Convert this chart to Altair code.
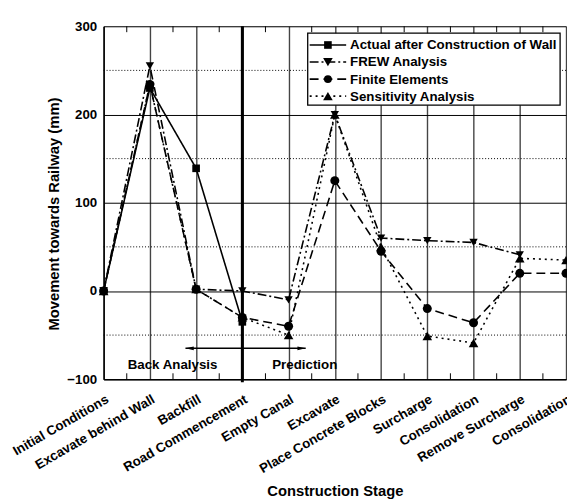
import json
import altair as alt
import pandas as pd

stages = ["Initial Conditions", "Excavate behind Wall", "Backfill", "Road Commencement",
          "Empty Canal", "Excavate", "Place Concrete Blocks", "Surcharge", "Consolidation",
          "Remove Surcharge", "Consolidation"]
series = ["Actual after Construction of Wall", "FREW Analysis", "Finite Elements",
          "Sensitivity Analysis"]
actual = [0, 230, 139, -35, None, None, None, None, None, None, None]
frew = [0, 255, 2, 0, -10, 200, 60, 57, 55, 41, None]
fe = [0, 234, 2, -30, -40, 125, 45, -20, -36, 20, 20]
sens = [0, 234, 2, -30, -50, 200, 50, -51, -59, 37, 35]

minor_y = [-50, 50, 150, 250]
half_x = [i + 0.5 for i in range(10)]
divider_x = [3]
arrow_x = [1.77, 4.37]
arrow_y = [-65]
notes = ["Back Analysis", "Prediction"]
notes_x = [1.49, 4.35]
notes_y = [-84, -84]

shapes = ["square", "triangle-down", "circle", "triangle-up"]
sizes = [60, 95, 65, 95]
dashes = [[1, 0], [9, 3, 2, 3], [9, 5], [2, 4]]

rows = []
for name, vals in zip(series, [actual, frew, fe, sens]):
    for i, v in enumerate(vals):
        if v is not None:
            rows.append({"series": name, "stage": i, "value": v})
df = pd.DataFrame(rows)

W, H = 469, 358
FONT = "Liberation Sans"
xs = alt.Scale(domain=[0, 10], nice=False, zero=False)
ys = alt.Scale(domain=[-100, 300], nice=False, zero=False)
label_expr = json.dumps(stages) + "[datum.value]"

base = alt.Chart(df)

lines = base.mark_line(color="black", strokeWidth=1.6).encode(
    x=alt.X("stage:Q", scale=xs, title="Construction Stage",
            axis=alt.Axis(values=list(range(11)), labelExpr=label_expr, labelAngle=-30,
                          labelOverlap=False, labelBound=False, labelFlush=False,
                          grid=True, gridColor="#444", gridWidth=1.4, ticks=False,
                          domain=True, domainColor="black", domainWidth=1.5,
                          labelFontSize=13.5, labelFontWeight="bold", labelPadding=13,
                          titleFontSize=15, titleFontWeight="bold", titleY=118,
                          titleBaseline="alphabetic", labelFont=FONT, titleFont=FONT)),
    y=alt.Y("value:Q", scale=ys, title="Movement towards Railway (mm)",
            axis=alt.Axis(values=[-100, 0, 100, 200, 300], grid=True, gridColor="black",
                          gridWidth=1, ticks=False, domain=True, domainColor="black",
                          domainWidth=1.5, labelFontSize=13.5, labelFontWeight="bold",
                          labelPadding=7, titleFontSize=15, titleFontWeight="bold",
                          titleX=-51, titleY=190, titleBaseline="middle",
                          labelFont=FONT, titleFont=FONT)),
    strokeDash=alt.StrokeDash("series:N", scale=alt.Scale(domain=series, range=dashes), legend=None),
    detail="series:N",
)
points = base.mark_point(filled=True, color="black", opacity=1).encode(
    x=alt.X("stage:Q", scale=xs),
    y=alt.Y("value:Q", scale=ys),
    shape=alt.Shape("series:N", scale=alt.Scale(domain=series, range=shapes), legend=None),
    size=alt.Size("series:N", scale=alt.Scale(domain=series, range=sizes), legend=None),
)

dotted = alt.Chart(pd.DataFrame({"y": minor_y})).mark_rule(
    color="black", strokeWidth=1, strokeDash=[1, 2]).encode(y=alt.Y("y:Q", scale=ys))
top_ticks = alt.Chart(pd.DataFrame({"x": half_x})).mark_rule(color="black", strokeWidth=1).encode(
    x=alt.X("x:Q", scale=xs), y=alt.value(0), y2=alt.value(6))
bot_ticks = alt.Chart(pd.DataFrame({"x": half_x})).mark_rule(color="black", strokeWidth=1).encode(
    x=alt.X("x:Q", scale=xs), y=alt.value(H), y2=alt.value(H - 6))
divider = alt.Chart(pd.DataFrame({"x": divider_x})).mark_rule(color="black", strokeWidth=3).encode(
    x=alt.X("x:Q", scale=xs), y=alt.value(0), y2=alt.value(H + 3))

arrow_df = pd.DataFrame({"x": [arrow_x[0]], "x2": [arrow_x[1]], "y": arrow_y})
shaft = alt.Chart(arrow_df).mark_rule(color="black", strokeWidth=1.5).encode(
    x=alt.X("x:Q", scale=xs), x2="x2:Q", y=alt.Y("y:Q", scale=ys))
heads_df = pd.DataFrame({"x": arrow_x, "y": arrow_y * 2,
                         "s": ["M-1,0L1,-0.45L1,0.45Z", "M1,0L-1,-0.45L-1,0.45Z"]})
heads = alt.Chart(heads_df).mark_point(filled=True, color="black", opacity=1, size=70).encode(
    x=alt.X("x:Q", scale=xs), y=alt.Y("y:Q", scale=ys),
    shape=alt.Shape("s:N", scale=None))
heads = heads.transform_calculate(x="datum.x < 3 ? datum.x + 0.09 : datum.x - 0.09")

texts = alt.Chart(pd.DataFrame({"t": notes, "x": notes_x, "y": notes_y})).mark_text(
    font=FONT, fontSize=13.5, fontWeight="bold", color="black").encode(
    x=alt.X("x:Q", scale=xs), y=alt.Y("y:Q", scale=ys), text="t:N")

box = alt.Chart(pd.DataFrame({"a": [0]})).mark_rect(
    fill="white", stroke="black", strokeWidth=1.3).encode(
    x=alt.value(207), x2=alt.value(463), y=alt.value(7), y2=alt.value(80))

legend_layers = []
for i, name in enumerate(series):
    yy = 19 + i * 17.3
    d = pd.DataFrame({"label": [name]})
    legend_layers.append(alt.Chart(d).mark_rule(color="black", strokeWidth=1.6,
                                                strokeDash=dashes[i]).encode(
        x=alt.value(209), x2=alt.value(246), y=alt.value(yy)))
    legend_layers.append(alt.Chart(d).mark_point(filled=True, color="black", opacity=1,
                                                 shape=shapes[i], size=sizes[i]).encode(
        x=alt.value(227.5), y=alt.value(yy)))
    legend_layers.append(alt.Chart(d).mark_text(align="left", baseline="middle", font=FONT,
                                                fontSize=13.5, fontWeight="bold",
                                                color="black").encode(
        x=alt.value(250), y=alt.value(yy + 0.5), text="label:N"))

chart = alt.layer(dotted, top_ticks, bot_ticks, divider, lines, points, shaft, heads, texts,
                  box, *legend_layers).properties(
    width=W, height=H,
    autosize=alt.AutoSizeParams(type="none"),
    padding={"left": 97, "top": 15, "right": 1, "bottom": 119},
).configure_view(stroke="black", strokeWidth=1.5).configure(font=FONT)

chart.save("out.html", embed_options={"renderer": "svg", "actions": False})
